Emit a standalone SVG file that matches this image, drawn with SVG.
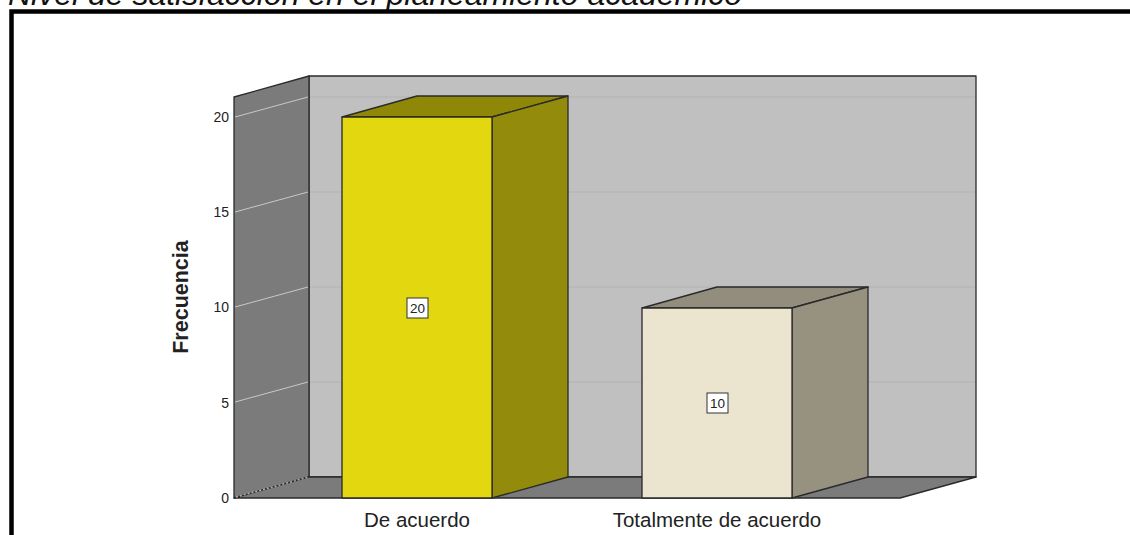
<svg xmlns="http://www.w3.org/2000/svg" width="1130" height="535" viewBox="0 0 1130 535">
<style>
text{font-family:"Liberation Sans",Arial,sans-serif;fill:#222}
.tick{font-size:14px;text-anchor:end}
.cat{font-size:20.5px;text-anchor:middle}
.lbl{font-size:13.5px;text-anchor:middle}
.edge{stroke:#2a2a2a;stroke-width:1.3;stroke-linejoin:round}
.gridb{stroke:#b2b2b2;stroke-width:1}
.grids{stroke:#c8c8c8;stroke-width:1}
</style>
<rect width="1130" height="535" fill="#fff"/>
<text x="8" y="4.5" font-size="32" font-style="italic" textLength="734" lengthAdjust="spacingAndGlyphs" style="fill:#111">Nivel de satisfacción en el planeamiento académico</text>
<path d="M11.5 540 V11.5 H1135" fill="none" stroke="#000" stroke-width="4.5"/>
<g id="walls">
<rect x="309" y="76" width="667" height="401" fill="#c0c0c0" class="edge"/>
<polygon points="234,97 309,76 309,477 234,498" fill="#7b7b7b" class="edge"/>
<polygon points="234,498 309,477 976,477 900,498" fill="#7b7b7b" class="edge"/>
<line x1="236" y1="497" x2="309" y2="477" stroke="#b0b0b0" stroke-width="1.5" stroke-dasharray="2,2"/>
</g>
<g id="grid">
<line class="gridb" x1="310" y1="97" x2="975" y2="97"/>
<line class="gridb" x1="310" y1="192" x2="975" y2="192"/>
<line class="gridb" x1="310" y1="287" x2="975" y2="287"/>
<line class="gridb" x1="310" y1="382" x2="975" y2="382"/>
<line class="grids" x1="235" y1="117" x2="308" y2="97"/>
<line class="grids" x1="235" y1="212" x2="308" y2="192"/>
<line class="grids" x1="235" y1="307" x2="308" y2="287"/>
<line class="grids" x1="235" y1="402" x2="308" y2="382"/>
</g>
<g id="axis">
<text class="tick" x="229" y="122">20</text>
<text class="tick" x="229" y="217">15</text>
<text class="tick" x="229" y="312">10</text>
<text class="tick" x="229" y="408">5</text>
<text class="tick" x="229" y="503">0</text>
<text x="188" y="297" font-size="21.5" font-weight="bold" text-anchor="middle" transform="rotate(-90 188 297)">Frecuencia</text>
</g>
<g id="bar1">
<polygon points="342,117 417,96 568,96 492,117" fill="#8f8708" class="edge"/>
<polygon points="492,117 568,96 568,477 492,498" fill="#938b0b" class="edge"/>
<rect x="342" y="117" width="150" height="381" fill="#e3d70f" class="edge"/>
<rect x="407" y="298" width="21" height="20" fill="#fff" stroke="#333" stroke-width="1"/>
<text class="lbl" x="417.5" y="313">20</text>
<text class="cat" x="417" y="527">De acuerdo</text>
</g>
<g id="bar2">
<polygon points="642,308 717,287 868,287 792,308" fill="#928d7c" class="edge"/>
<polygon points="792,308 868,287 868,477 792,498" fill="#979280" class="edge"/>
<rect x="642" y="308" width="150" height="190" fill="#ebe4cf" class="edge"/>
<rect x="707" y="393" width="21" height="20" fill="#fff" stroke="#333" stroke-width="1"/>
<text class="lbl" x="717.5" y="408">10</text>
<text class="cat" x="717" y="527">Totalmente de acuerdo</text>
</g>
</svg>
